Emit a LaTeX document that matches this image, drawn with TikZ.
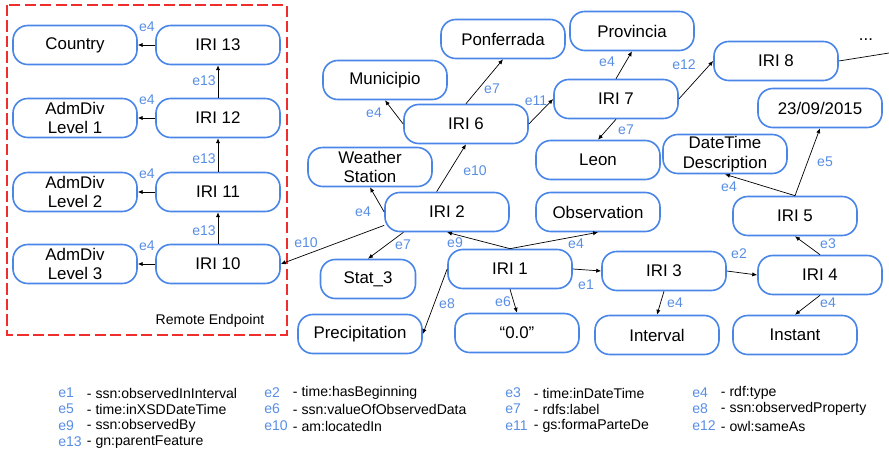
\documentclass[tikz,border=0pt]{standalone}
\usepackage{fontspec}
\setmainfont{Liberation Sans}
\usetikzlibrary{arrows.meta}

\definecolor{nodeblue}{RGB}{74,134,232}
\definecolor{edgeblue}{RGB}{88,142,228}
\definecolor{remotered}{RGB}{240,45,45}

\begin{document}
\begin{tikzpicture}[x=0.025cm,y=-0.025cm,
  res/.style={draw=nodeblue, line width=1.15pt, rounded corners=10.5pt,
    minimum width=3.1cm, minimum height=0.975cm, align=center, inner sep=1pt,
    font=\fontsize{12}{14}\selectfont},
  elab/.style={text=edgeblue, font=\fontsize{10}{12}\selectfont, inner sep=0pt},
  rel/.style={-{Latex[length=3.5pt,width=3pt]}, line width=0.5pt}]

\useasboundingbox (0,0) rectangle (889,453);

% remote endpoint
\draw [remotered, line width=1.3pt, dash pattern=on 8pt off 3pt] (7,5) rectangle (287,335);
\node (remote) at (210,321) [font=\fontsize{10}{12}\selectfont] {Remote Endpoint};

\foreach \i/\y/\t in {13/45/Country, 12/118/{AdmDiv\\Level 1}, 11/192/{AdmDiv\\Level 2}, 10/264/{AdmDiv\\Level 3}}
{
    \node [res] (iri\i) at (218,\y) {IRI \i};
    \node [res] (type\i) at (75,\y) {\t};
    \draw [rel] (iri\i.west) -- (type\i.east);
    \node [elab] (lt\i) at (147,\y-18) {e4};
}

\foreach \a/\b/\y in {10/11/231, 11/12/159, 12/13/81}
{
    \draw [rel] (iri\a.north) -- (iri\b.south);
    \node [elab] (lp\a) at (204,\y) {e13};
}

% local graph
\node [res] (ponferrada) at (503,39) {Ponferrada};
\node [res] (municipio) at (385,80) {Municipio};
\node [res] (iri6) at (466,124) {IRI 6};
\node [res] (weather) at (370,167) {Weather\\Station};
\node [res] (provincia) at (632,31) {Provincia};
\node [res] (iri7) at (616,99) {IRI 7};
\node [res] (iri8) at (776,61) {IRI 8};
\node [res] (date) at (820,108) {23/09/2015};
\node [res] (leon) at (598,160) {Leon};
\node [res] (dtdesc) at (725,154) {DateTime\\Description};
\node [res] (iri5) at (795,216) {IRI 5};
\node [res] (iri4) at (820,275) {IRI 4};
\node [res] (iri3) at (664,271) {IRI 3};
\node [res] (interval) at (657,335) {Interval};
\node [res] (instant) at (795,335) {Instant};
\node [res] (observation) at (598,212) {Observation};
\node [res] (iri2) at (447,212) {IRI 2};
\node [res] (iri1) at (510,269) {IRI 1};
\node [res, minimum width=2.375cm] (stat) at (368,279) {Stat\_3};
\node [res] (precip) at (360,334) {Precipitation};
\node [res] (zero) at (517,333) {“0.0”};

\node (dots) at (866,40) [font=\fontsize{12}{14}\selectfont] {...};
\coordinate (more) at (889,53);

\draw [rel] (iri2.192) -- (iri10.east);
\draw [rel] (iri2.west) -- (weather.south);
\draw [rel] (iri2.117) -- (iri6.south);
\draw [rel] (iri2.205) -- (stat.north);
\draw [rel] (iri6.west) -- (municipio.south);
\draw [rel] (iri6.north) -- (ponferrada.south);
\draw [rel] (iri6.east) -- (iri7.west);
\draw [rel] (iri7.north) -- (provincia.south);
\draw [rel] (iri7.south) -- (leon.north);
\draw [rel] (iri7.east) -- (iri8.west);
\draw [line width=0.5pt] (iri8.east) -- (more);
\draw [rel] (iri1.north) -- (iri2.south);
\draw [rel] (iri1.north) -- (observation.south);
\draw [rel] (iri1.west) -- (precip.east);
\draw [rel] (iri1.south) -- (zero.north);
\draw [rel] (iri1.east) -- (iri3.west);
\draw [rel] (iri3.south) -- (interval.north);
\draw [rel] (iri3.east) -- (iri4.west);
\draw [rel] (iri4.north) -- (iri5.south);
\draw [rel] (iri4.south) -- (instant.north);
\draw [rel] (iri5.north) -- (dtdesc.south);
\draw [rel] (iri5.north) -- (date.south);

% edge labels
\node [elab] (l1)  at (306,243) {e10};
\node [elab] (l2)  at (363,212) {e4};
\node [elab] (l3)  at (475,171) {e10};
\node [elab] (l4)  at (374,113) {e4};
\node [elab] (l5)  at (492,89)  {e7};
\node [elab] (l6)  at (536,101) {e11};
\node [elab] (l7)  at (607,62)  {e4};
\node [elab] (l8)  at (684,65)  {e12};
\node [elab] (l9)  at (626,130) {e7};
\node [elab] (l10) at (729,187) {e4};
\node [elab] (l11) at (825,162) {e5};
\node [elab] (l12) at (403,245) {e7};
\node [elab] (l13) at (455,243) {e9};
\node [elab] (l14) at (576,244) {e4};
\node [elab] (l15) at (586,285) {e1};
\node [elab] (l16) at (447,304) {e8};
\node [elab] (l17) at (503,302) {e6};
\node [elab] (l18) at (675,303) {e4};
\node [elab] (l19) at (739,254) {e2};
\node [elab] (l20) at (828,244) {e3};
\node [elab] (l21) at (828,303) {e4};

% legend
\foreach \c/\x/\y/\t in {e1/58/393/ssn:observedInInterval, e2/264/393/time:hasBeginning,
    e3/505/393/time:inDateTime, e4/692/393/rdf:type,
    e5/58/409/time:inXSDDateTime, e6/264/409/ssn:valueOfObservedData,
    e7/505/409/rdfs:label, e8/692/409/ssn:observedProperty,
    e9/58/426/ssn:observedBy, e10/264/426/am:locatedIn,
    e11/505/426/gs:formaParteDe, e12/692/426/owl:sameAs,
    e13/58/442/gn:parentFeature}
{
    \node [elab, anchor=west] (key\c) at (\x,\y) {\c};
    \node [anchor=west, inner sep=0pt, font=\fontsize{10}{12}\selectfont] (def\c) at (\x+28.7,\y) {- \t};
}

\end{tikzpicture}
\end{document}
